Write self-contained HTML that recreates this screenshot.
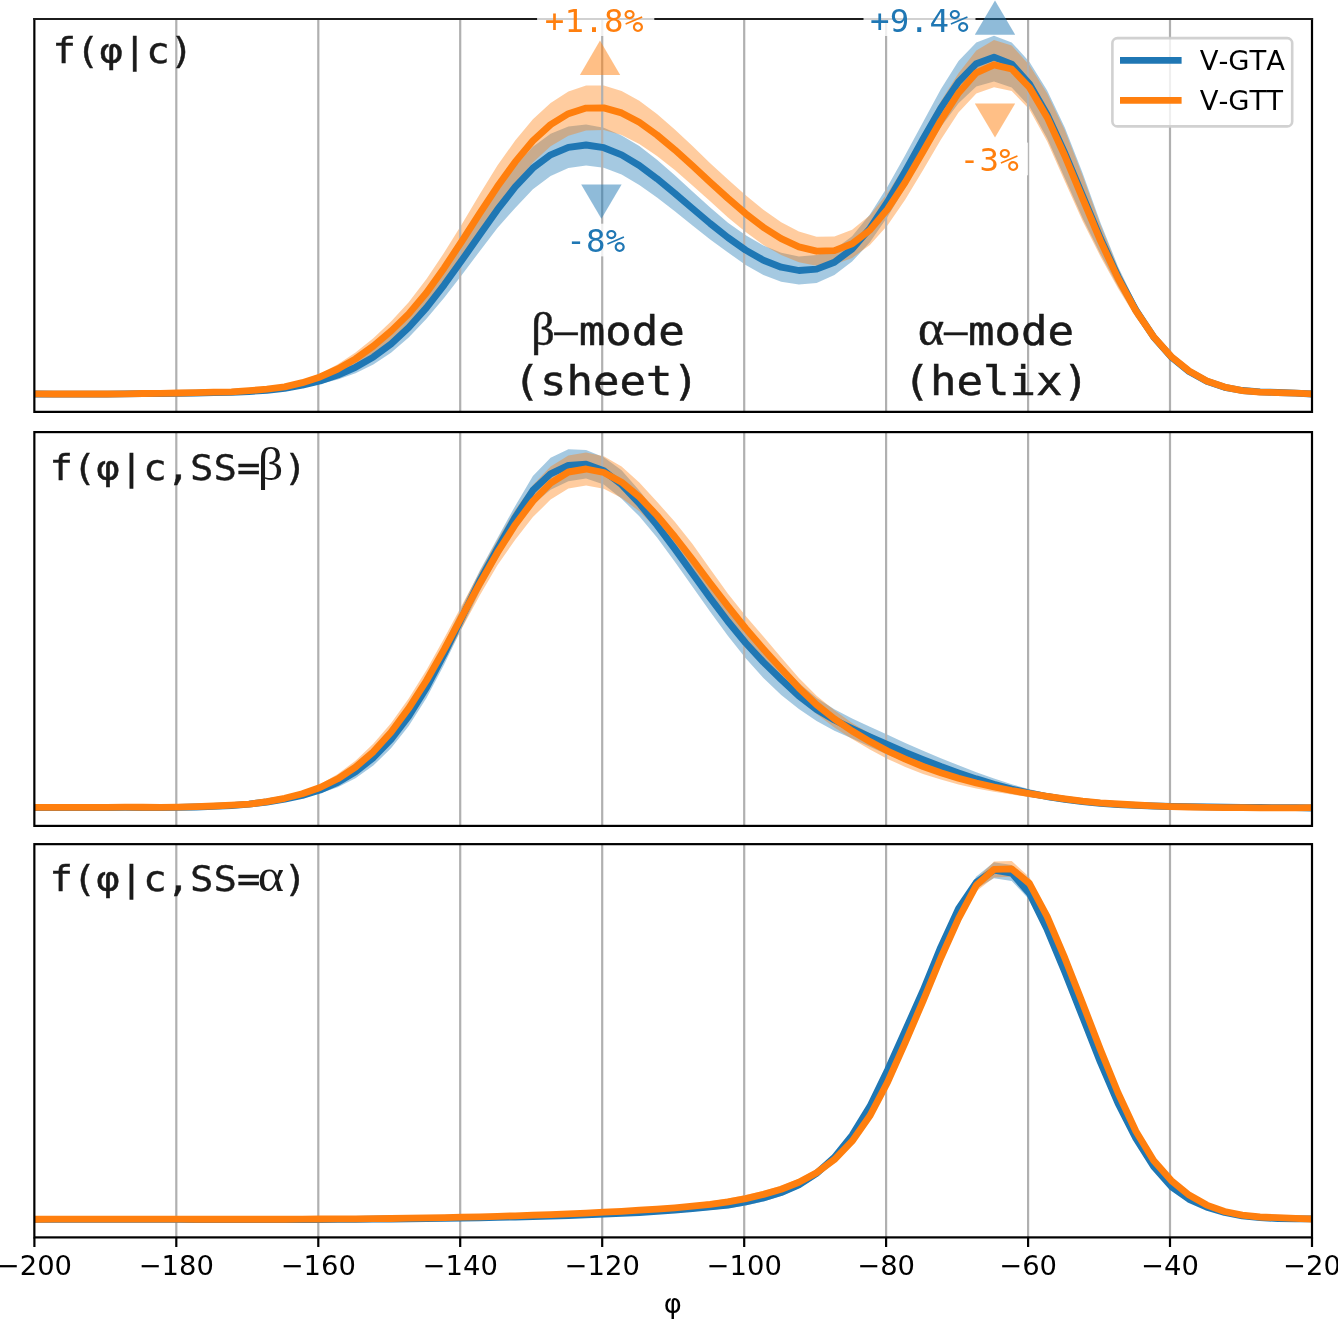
<!DOCTYPE html>
<html><head><meta charset="utf-8"><title>phi distributions</title>
<style>
html,body{margin:0;padding:0;background:#fff;}
svg{display:block}
.tk{font-family:"DejaVu Sans","Liberation Sans",sans-serif;font-size:27.4px;fill:#000;text-anchor:middle;font-kerning:none}
.mono{font-family:"DejaVu Sans Mono","Liberation Mono",monospace;}
.ser{font-family:"Liberation Serif","DejaVu Serif",serif;font-size:46px}
.ser2{font-family:"Liberation Serif","DejaVu Serif",serif;font-size:46px;fill:#1a1a1a;stroke:none}
.lab{font-size:35.7px;fill:#1a1a1a;stroke:#1a1a1a;stroke-width:0.4px}
.modet{fill:#1a1a1a;stroke:#1a1a1a;stroke-width:0.5px}
.mode{font-size:40px}
.ann{font-size:32.4px;letter-spacing:0.3px}
</style></head><body>
<svg width="1338" height="1319" viewBox="0 0 1338 1319">
<rect width="1338" height="1319" fill="#fff"/>
<defs>
<clipPath id="c0"><rect x="34.35" y="19.0" width="1277.7" height="392.9"/></clipPath>
<clipPath id="c1"><rect x="34.35" y="432.1" width="1277.7" height="393.8"/></clipPath>
<clipPath id="c2"><rect x="34.35" y="844.15" width="1277.7" height="393.3"/></clipPath>
</defs>
<g clip-path="url(#c0)">
<path d="M34.4,394.3 L36.3,394.3 L54.0,394.5 L71.8,394.6 L89.5,394.6 L107.2,394.6 L125.0,394.5 L142.7,394.3 L160.5,394.2 L178.2,394.1 L195.9,393.9 L213.7,393.6 L231.4,393.2 L249.1,392.5 L266.9,391.6 L284.6,390.1 L302.3,387.7 L320.1,384.0 L337.8,379.6 L355.5,373.2 L373.3,364.4 L391.0,352.7 L408.7,337.5 L426.5,318.8 L444.2,297.7 L462.0,274.8 L479.7,251.2 L497.4,228.0 L515.2,207.9 L532.9,189.3 L550.6,175.9 L568.4,168.0 L586.1,165.5 L603.8,167.7 L621.6,174.4 L639.3,185.1 L657.0,197.5 L674.8,211.3 L692.5,225.5 L710.2,239.5 L728.0,252.5 L745.7,264.9 L763.4,275.0 L781.2,281.7 L798.9,284.5 L816.6,283.1 L834.4,275.0 L852.1,261.6 L869.9,242.3 L887.6,216.8 L905.3,187.2 L923.1,156.1 L940.8,127.0 L958.5,103.2 L976.3,86.6 L994.0,81.4 L1011.7,87.5 L1029.5,106.5 L1047.2,138.6 L1064.9,178.6 L1082.7,218.5 L1100.4,254.0 L1118.1,286.8 L1135.9,316.8 L1153.6,341.3 L1171.3,360.0 L1189.1,374.0 L1206.8,383.2 L1224.6,388.7 L1242.3,391.6 L1260.0,392.6 L1277.8,393.1 L1295.5,393.6 L1312.0,394.3 L1312.0,393.7 L1295.5,392.7 L1277.8,391.9 L1260.0,391.0 L1242.3,389.4 L1224.6,385.9 L1206.8,379.5 L1189.1,369.1 L1171.3,354.1 L1153.6,332.5 L1135.9,303.4 L1118.1,266.7 L1100.4,222.4 L1082.7,173.2 L1064.9,127.8 L1047.2,90.5 L1029.5,61.9 L1011.7,42.4 L994.0,35.7 L976.3,42.6 L958.5,61.0 L940.8,89.3 L923.1,121.9 L905.3,155.0 L887.6,186.6 L869.9,214.5 L852.1,236.2 L834.4,249.5 L816.6,255.1 L798.9,256.5 L781.2,252.7 L763.4,245.4 L745.7,235.3 L728.0,222.7 L710.2,207.5 L692.5,191.5 L674.8,175.3 L657.0,159.8 L639.3,145.9 L621.6,135.4 L603.8,127.8 L586.1,124.6 L568.4,126.5 L550.6,133.7 L532.9,146.8 L515.2,165.9 L497.4,191.3 L479.7,218.2 L462.0,245.4 L444.2,271.8 L426.5,296.3 L408.7,317.6 L391.0,335.2 L373.3,349.7 L355.5,361.4 L337.8,370.5 L320.1,377.7 L302.3,382.7 L284.6,386.4 L266.9,389.0 L249.1,390.5 L231.4,391.4 L213.7,391.8 L195.9,392.3 L178.2,392.6 L160.5,392.8 L142.7,393.0 L125.0,393.3 L107.2,393.6 L89.5,393.6 L71.8,393.7 L54.0,393.8 L36.3,393.7 L34.4,393.7Z" fill="#1f77b4" fill-opacity="0.4"/>
<path d="M34.4,394.2 L36.3,394.2 L54.0,394.4 L71.8,394.4 L89.5,394.4 L107.2,394.4 L125.0,394.2 L142.7,393.9 L160.5,393.7 L178.2,393.5 L195.9,393.2 L213.7,392.7 L231.4,392.6 L249.1,391.6 L266.9,390.5 L284.6,388.7 L302.3,385.2 L320.1,380.1 L337.8,373.8 L355.5,365.2 L373.3,354.0 L391.0,340.5 L408.7,325.6 L426.5,306.4 L444.2,283.1 L462.0,257.8 L479.7,232.5 L497.4,207.6 L515.2,183.3 L532.9,162.5 L550.6,146.3 L568.4,135.7 L586.1,130.5 L603.8,130.1 L621.6,134.9 L639.3,143.9 L657.0,155.9 L674.8,170.1 L692.5,185.4 L710.2,201.2 L728.0,217.4 L745.7,232.0 L763.4,244.9 L781.2,255.0 L798.9,262.3 L816.6,265.7 L834.4,264.6 L852.1,257.9 L869.9,244.9 L887.6,225.2 L905.3,199.4 L923.1,170.0 L940.8,139.7 L958.5,112.4 L976.3,93.6 L994.0,87.2 L1011.7,91.1 L1029.5,109.5 L1047.2,141.4 L1064.9,181.4 L1082.7,221.3 L1100.4,256.4 L1118.1,288.4 L1135.9,317.4 L1153.6,341.2 L1171.3,359.6 L1189.1,373.4 L1206.8,382.7 L1224.6,388.5 L1242.3,391.7 L1260.0,392.9 L1277.8,393.2 L1295.5,393.6 L1312.0,394.2 L1312.0,393.6 L1295.5,392.7 L1277.8,392.0 L1260.0,391.3 L1242.3,389.4 L1224.6,385.7 L1206.8,379.0 L1189.1,368.6 L1171.3,353.7 L1153.6,332.4 L1135.9,304.1 L1118.1,268.4 L1100.4,224.8 L1082.7,176.0 L1064.9,130.6 L1047.2,93.4 L1029.5,65.2 L1011.7,45.5 L994.0,40.0 L976.3,50.5 L958.5,73.3 L940.8,101.3 L923.1,132.9 L905.3,164.7 L887.6,193.0 L869.9,215.2 L852.1,229.8 L834.4,236.5 L816.6,236.8 L798.9,231.4 L781.2,222.2 L763.4,209.7 L745.7,195.3 L728.0,179.4 L710.2,163.2 L692.5,146.1 L674.8,129.5 L657.0,114.1 L639.3,100.8 L621.6,91.0 L603.8,85.6 L586.1,85.6 L568.4,91.6 L550.6,102.9 L532.9,119.2 L515.2,140.6 L497.4,165.5 L479.7,194.3 L462.0,224.1 L444.2,252.6 L426.5,279.0 L408.7,302.3 L391.0,321.6 L373.3,338.2 L355.5,352.5 L337.8,364.3 L320.1,373.7 L302.3,380.3 L284.6,384.9 L266.9,387.9 L249.1,389.8 L231.4,391.0 L213.7,391.5 L195.9,392.2 L178.2,392.5 L160.5,392.8 L142.7,393.1 L125.0,393.4 L107.2,393.6 L89.5,393.6 L71.8,393.7 L54.0,393.7 L36.3,393.6 L34.4,393.6Z" fill="#ff7f0e" fill-opacity="0.4"/>
</g>
<path d="M176.3,19.0 V411.9 M318.3,19.0 V411.9 M460.2,19.0 V411.9 M602.2,19.0 V411.9 M744.2,19.0 V411.9 M886.1,19.0 V411.9 M1028.1,19.0 V411.9 M1170.0,19.0 V411.9 " stroke="#b0b0b0" stroke-width="2.2" fill="none"/>
<g clip-path="url(#c0)">
<path d="M34.4,394.0 L36.3,394.0 L54.0,394.1 L71.8,394.1 L89.5,394.1 L107.2,394.1 L125.0,393.9 L142.7,393.7 L160.5,393.5 L178.2,393.3 L195.9,393.1 L213.7,392.7 L231.4,392.3 L249.1,391.5 L266.9,390.3 L284.6,388.3 L302.3,385.2 L320.1,380.9 L337.8,375.0 L355.5,367.3 L373.3,357.1 L391.0,344.0 L408.7,327.5 L426.5,307.6 L444.2,284.8 L462.0,260.1 L479.7,234.7 L497.4,209.7 L515.2,186.9 L532.9,168.1 L550.6,154.8 L568.4,147.3 L586.1,145.0 L603.8,147.7 L621.6,154.9 L639.3,165.5 L657.0,178.7 L674.8,193.3 L692.5,208.5 L710.2,223.5 L728.0,237.6 L745.7,250.1 L763.4,260.2 L781.2,267.2 L798.9,270.5 L816.6,269.1 L834.4,262.2 L852.1,248.9 L869.9,228.4 L887.6,201.7 L905.3,171.1 L923.1,139.0 L940.8,108.1 L958.5,81.9 L976.3,63.7 L994.0,57.1 L1011.7,64.1 L1029.5,84.0 L1047.2,114.6 L1064.9,153.2 L1082.7,195.8 L1100.4,238.2 L1118.1,276.8 L1135.9,310.1 L1153.6,336.9 L1171.3,357.1 L1189.1,371.6 L1206.8,381.3 L1224.6,387.3 L1242.3,390.5 L1260.0,391.8 L1277.8,392.5 L1295.5,393.2 L1312.0,394.0" stroke="#1f77b4" stroke-width="6.85" fill="none" stroke-linejoin="round"/>
<path d="M34.4,393.9 L36.3,393.9 L54.0,394.0 L71.8,394.0 L89.5,394.0 L107.2,394.0 L125.0,393.8 L142.7,393.5 L160.5,393.3 L178.2,393.0 L195.9,392.7 L213.7,392.1 L231.4,391.8 L249.1,390.7 L266.9,389.2 L284.6,386.8 L302.3,382.7 L320.1,376.9 L337.8,369.0 L355.5,358.9 L373.3,346.1 L391.0,331.1 L408.7,313.9 L426.5,292.7 L444.2,267.9 L462.0,241.0 L479.7,213.4 L497.4,186.6 L515.2,161.9 L532.9,140.8 L550.6,124.6 L568.4,113.7 L586.1,108.1 L603.8,107.9 L621.6,112.9 L639.3,122.3 L657.0,135.0 L674.8,149.8 L692.5,165.8 L710.2,182.2 L728.0,198.4 L745.7,213.7 L763.4,227.3 L781.2,238.6 L798.9,246.9 L816.6,251.2 L834.4,250.6 L852.1,243.8 L869.9,230.1 L887.6,209.1 L905.3,182.1 L923.1,151.5 L940.8,120.5 L958.5,93.0 L976.3,72.8 L994.0,64.8 L1011.7,69.0 L1029.5,87.5 L1047.2,117.4 L1064.9,156.0 L1082.7,198.6 L1100.4,240.6 L1118.1,278.4 L1135.9,310.8 L1153.6,336.8 L1171.3,356.6 L1189.1,371.0 L1206.8,380.9 L1224.6,387.1 L1242.3,390.6 L1260.0,392.1 L1277.8,392.6 L1295.5,393.2 L1312.0,393.9" stroke="#ff7f0e" stroke-width="6.85" fill="none" stroke-linejoin="round"/>
</g>
<!-- triangles -->
<path d="M579.9,74.9 L620.2,74.9 L600,40.5Z" fill="#ff7f0e" fill-opacity="0.5"/>
<path d="M581.2,184.4 L621.6,184.4 L601.4,218.7Z" fill="#1f77b4" fill-opacity="0.5"/>
<path d="M974.8,103.6 L1015.2,103.6 L995,137.4Z" fill="#ff7f0e" fill-opacity="0.5"/>
<!-- lower annotations -->
<rect x="557" y="223.7" width="77.6" height="32.7" fill="#fff" fill-opacity="0.8"/>
<text class="mono ann" x="595.9" y="251.9" fill="#1f77b4" text-anchor="middle">-8%</text>
<rect x="950.5" y="142.6" width="77.6" height="32.7" fill="#fff" fill-opacity="0.8"/>
<text class="mono ann" x="989.4" y="170.8" fill="#ff7f0e" text-anchor="middle">-3%</text>
<!-- mode labels -->
<text class="ser modet" x="577.6" y="344.8" text-anchor="end">β–</text>
<text class="mono mode modet" transform="translate(578.8,344.8) scale(1.1,1)">mode</text>
<text class="mono mode modet" transform="translate(513.6,394.8) scale(1.1,1)">(sheet)</text>
<text class="ser modet" x="967.2" y="344.8" text-anchor="end"><tspan font-size="50">α</tspan>–</text>
<text class="mono mode modet" transform="translate(968,344.8) scale(1.1,1)">mode</text>
<text class="mono mode modet" transform="translate(903.6,394.8) scale(1.1,1)">(helix)</text>
<!-- legend -->
<rect x="1112.4" y="38.1" width="179.8" height="88.3" rx="5" ry="5" fill="#fff" fill-opacity="0.8" stroke="#ccc" stroke-opacity="0.9" stroke-width="2.6"/>
<path d="M1120,60.4 H1181.6" stroke="#1f77b4" stroke-width="6.7"/>
<path d="M1120,100.3 H1181.6" stroke="#ff7f0e" stroke-width="6.7"/>
<text class="tk" style="text-anchor:start" x="1199.7" y="70">V-GTA</text>
<text class="tk" style="text-anchor:start" x="1199.7" y="110.1">V-GTT</text>

<path d="M34.35,17.9 V411.9 H1312.0 V17.9" fill="none" stroke="#000" stroke-width="2.2" stroke-linejoin="miter"/>
<path d="M33.25,19.0 H1313.1" fill="none" stroke="#1c1c1c" stroke-width="1.8"/>
<rect x="537.1" y="3.3" width="117.2" height="32.7" fill="#fff" fill-opacity="0.8"/>
<text class="mono ann" x="594.2" y="32.1" fill="#ff7f0e" text-anchor="middle">+1.8%</text>
<rect x="863.5" y="3.3" width="112" height="32.7" fill="#fff" fill-opacity="0.8"/>
<text class="mono ann" x="919.5" y="32.1" fill="#1f77b4" text-anchor="middle">+9.4%</text>
<path d="M974.8,34.8 L1015.2,34.8 L995,0.5Z" fill="#1f77b4" fill-opacity="0.5"/>

<g clip-path="url(#c1)">
<path d="M34.4,808.0 L36.3,807.9 L54.0,807.9 L71.8,807.9 L89.5,808.0 L107.2,808.0 L125.0,808.0 L142.7,808.1 L160.5,808.3 L178.2,808.2 L195.9,807.8 L213.7,807.3 L231.4,806.6 L249.1,805.1 L266.9,803.5 L284.6,801.2 L302.3,797.9 L320.1,793.2 L337.8,787.3 L355.5,778.3 L373.3,765.6 L391.0,748.3 L408.7,726.0 L426.5,698.1 L444.2,664.4 L462.0,627.8 L479.7,591.2 L497.4,558.9 L515.2,528.7 L532.9,504.5 L550.6,489.8 L568.4,481.2 L586.1,478.4 L603.8,484.4 L621.6,498.8 L639.3,516.3 L657.0,537.6 L674.8,561.7 L692.5,586.7 L710.2,611.8 L728.0,636.0 L745.7,658.2 L763.4,677.9 L781.2,695.1 L798.9,709.0 L816.6,721.1 L834.4,730.7 L852.1,738.6 L869.9,746.8 L887.6,754.7 L905.3,761.8 L923.1,768.5 L940.8,774.9 L958.5,780.6 L976.3,785.4 L994.0,789.8 L1011.7,793.8 L1029.5,797.1 L1047.2,799.9 L1064.9,802.2 L1082.7,803.9 L1100.4,805.3 L1118.1,806.3 L1135.9,806.9 L1153.6,807.4 L1171.3,807.7 L1189.1,807.9 L1206.8,807.9 L1224.6,808.1 L1242.3,808.2 L1260.0,808.3 L1277.8,808.3 L1295.5,808.3 L1312.0,808.5 L1312.0,807.5 L1295.5,807.1 L1277.8,807.0 L1260.0,806.7 L1242.3,806.5 L1224.6,806.2 L1206.8,805.8 L1189.1,805.5 L1171.3,805.2 L1153.6,804.7 L1135.9,804.0 L1118.1,803.0 L1100.4,801.3 L1082.7,799.2 L1064.9,796.5 L1047.2,793.2 L1029.5,789.2 L1011.7,784.2 L994.0,778.6 L976.3,772.3 L958.5,765.3 L940.8,758.2 L923.1,750.8 L905.3,743.0 L887.6,734.8 L869.9,726.8 L852.1,718.6 L834.4,709.2 L816.6,698.1 L798.9,682.9 L781.2,663.9 L763.4,646.2 L745.7,627.8 L728.0,606.9 L710.2,584.1 L692.5,560.1 L674.8,536.0 L657.0,512.8 L639.3,490.5 L621.6,470.3 L603.8,457.2 L586.1,450.1 L568.4,449.3 L550.6,457.8 L532.9,476.1 L515.2,505.9 L497.4,538.3 L479.7,570.8 L462.0,606.9 L444.2,643.4 L426.5,677.1 L408.7,706.1 L391.0,730.2 L373.3,749.7 L355.5,765.4 L337.8,777.5 L320.1,786.8 L302.3,792.9 L284.6,797.2 L266.9,800.5 L249.1,803.1 L231.4,804.7 L213.7,805.5 L195.9,806.2 L178.2,806.6 L160.5,806.9 L142.7,806.8 L125.0,806.8 L107.2,806.9 L89.5,807.0 L71.8,807.1 L54.0,807.2 L36.3,807.3 L34.4,807.4Z" fill="#1f77b4" fill-opacity="0.4"/>
<path d="M34.4,807.8 L36.3,807.7 L54.0,807.7 L71.8,807.7 L89.5,807.8 L107.2,807.8 L125.0,807.8 L142.7,807.8 L160.5,808.1 L178.2,807.9 L195.9,807.5 L213.7,806.9 L231.4,806.1 L249.1,805.1 L266.9,803.2 L284.6,800.3 L302.3,796.3 L320.1,790.7 L337.8,783.7 L355.5,773.6 L373.3,759.7 L391.0,741.3 L408.7,718.3 L426.5,691.2 L444.2,660.5 L462.0,628.0 L479.7,595.5 L497.4,565.3 L515.2,539.8 L532.9,517.1 L550.6,499.6 L568.4,488.5 L586.1,485.5 L603.8,488.7 L621.6,498.1 L639.3,511.2 L657.0,529.2 L674.8,551.7 L692.5,575.5 L710.2,597.5 L728.0,619.1 L745.7,641.1 L763.4,661.8 L781.2,680.2 L798.9,697.9 L816.6,713.9 L834.4,727.5 L852.1,739.0 L869.9,749.6 L887.6,758.9 L905.3,766.9 L923.1,773.9 L940.8,779.6 L958.5,784.5 L976.3,788.4 L994.0,791.7 L1011.7,794.6 L1029.5,797.1 L1047.2,799.4 L1064.9,801.6 L1082.7,803.5 L1100.4,804.8 L1118.1,805.7 L1135.9,806.4 L1153.6,807.3 L1171.3,807.8 L1189.1,808.1 L1206.8,808.4 L1224.6,808.5 L1242.3,808.6 L1260.0,808.6 L1277.8,808.6 L1295.5,808.4 L1312.0,808.2 L1312.0,807.2 L1295.5,807.3 L1277.8,807.3 L1260.0,807.1 L1242.3,806.8 L1224.6,806.6 L1206.8,806.3 L1189.1,805.8 L1171.3,805.3 L1153.6,804.6 L1135.9,803.5 L1118.1,802.4 L1100.4,800.8 L1082.7,798.8 L1064.9,796.2 L1047.2,793.2 L1029.5,790.1 L1011.7,786.5 L994.0,782.3 L976.3,777.5 L958.5,772.0 L940.8,765.9 L923.1,759.1 L905.3,751.5 L887.6,743.0 L869.9,733.6 L852.1,723.0 L834.4,710.3 L816.6,695.7 L798.9,677.9 L781.2,657.4 L763.4,636.5 L745.7,615.9 L728.0,593.8 L710.2,569.0 L692.5,544.0 L674.8,521.8 L657.0,501.7 L639.3,482.6 L621.6,466.4 L603.8,456.2 L586.1,452.5 L568.4,455.5 L550.6,466.6 L532.9,485.0 L515.2,509.7 L497.4,540.1 L479.7,571.9 L462.0,604.9 L444.2,638.2 L426.5,669.9 L408.7,698.4 L391.0,723.2 L373.3,743.8 L355.5,760.7 L337.8,774.0 L320.1,784.3 L302.3,791.3 L284.6,796.3 L266.9,800.2 L249.1,803.1 L231.4,804.2 L213.7,805.1 L195.9,805.9 L178.2,806.4 L160.5,806.7 L142.7,806.5 L125.0,806.6 L107.2,806.7 L89.5,806.8 L71.8,806.9 L54.0,807.0 L36.3,807.1 L34.4,807.2Z" fill="#ff7f0e" fill-opacity="0.4"/>
</g>
<path d="M176.3,432.1 V825.9 M318.3,432.1 V825.9 M460.2,432.1 V825.9 M602.2,432.1 V825.9 M744.2,432.1 V825.9 M886.1,432.1 V825.9 M1028.1,432.1 V825.9 M1170.0,432.1 V825.9 " stroke="#b0b0b0" stroke-width="2.2" fill="none"/>
<g clip-path="url(#c1)">
<path d="M34.4,807.7 L36.3,807.6 L54.0,807.5 L71.8,807.5 L89.5,807.5 L107.2,807.5 L125.0,807.4 L142.7,807.5 L160.5,807.6 L178.2,807.4 L195.9,807.0 L213.7,806.4 L231.4,805.6 L249.1,804.1 L266.9,802.0 L284.6,799.2 L302.3,795.4 L320.1,790.0 L337.8,782.4 L355.5,771.8 L373.3,757.7 L391.0,739.3 L408.7,716.1 L426.5,687.6 L444.2,653.9 L462.0,617.3 L479.7,581.0 L497.4,548.6 L515.2,517.3 L532.9,490.3 L550.6,473.8 L568.4,465.3 L586.1,464.2 L603.8,470.8 L621.6,484.6 L639.3,503.4 L657.0,525.2 L674.8,548.9 L692.5,573.4 L710.2,597.9 L728.0,621.5 L745.7,643.0 L763.4,662.1 L781.2,679.5 L798.9,696.0 L816.6,709.6 L834.4,720.0 L852.1,728.6 L869.9,736.8 L887.6,744.7 L905.3,752.4 L923.1,759.6 L940.8,766.5 L958.5,772.9 L976.3,778.9 L994.0,784.2 L1011.7,789.0 L1029.5,793.1 L1047.2,796.5 L1064.9,799.3 L1082.7,801.6 L1100.4,803.3 L1118.1,804.6 L1135.9,805.4 L1153.6,806.0 L1171.3,806.5 L1189.1,806.7 L1206.8,806.9 L1224.6,807.2 L1242.3,807.4 L1260.0,807.5 L1277.8,807.6 L1295.5,807.7 L1312.0,808.0" stroke="#1f77b4" stroke-width="6.85" fill="none" stroke-linejoin="round"/>
<path d="M34.4,807.5 L36.3,807.4 L54.0,807.3 L71.8,807.3 L89.5,807.3 L107.2,807.3 L125.0,807.2 L142.7,807.2 L160.5,807.4 L178.2,807.2 L195.9,806.7 L213.7,806.0 L231.4,805.2 L249.1,804.1 L266.9,801.7 L284.6,798.3 L302.3,793.8 L320.1,787.5 L337.8,778.8 L355.5,767.1 L373.3,751.8 L391.0,732.2 L408.7,708.3 L426.5,680.5 L444.2,649.4 L462.0,616.4 L479.7,583.7 L497.4,552.7 L515.2,524.7 L532.9,501.1 L550.6,483.1 L568.4,472.0 L586.1,469.0 L603.8,472.5 L621.6,482.2 L639.3,496.9 L657.0,515.5 L674.8,536.8 L692.5,559.7 L710.2,583.3 L728.0,606.4 L745.7,628.5 L763.4,649.1 L781.2,668.8 L798.9,687.9 L816.6,704.8 L834.4,718.9 L852.1,731.0 L869.9,741.6 L887.6,751.0 L905.3,759.2 L923.1,766.5 L940.8,772.8 L958.5,778.2 L976.3,783.0 L994.0,787.0 L1011.7,790.5 L1029.5,793.6 L1047.2,796.3 L1064.9,798.9 L1082.7,801.2 L1100.4,802.8 L1118.1,804.0 L1135.9,805.0 L1153.6,805.9 L1171.3,806.6 L1189.1,807.0 L1206.8,807.3 L1224.6,807.6 L1242.3,807.7 L1260.0,807.9 L1277.8,807.9 L1295.5,807.8 L1312.0,807.7" stroke="#ff7f0e" stroke-width="6.85" fill="none" stroke-linejoin="round"/>
</g>
<rect x="34.35" y="432.1" width="1277.65" height="393.80" fill="none" stroke="#000" stroke-width="2.2"/>
<g clip-path="url(#c2)">
<path d="M34.4,1219.7 L36.3,1219.7 L54.0,1219.7 L71.8,1219.7 L89.5,1219.7 L107.2,1219.8 L125.0,1219.8 L142.7,1219.9 L160.5,1220.0 L178.2,1220.0 L195.9,1220.1 L213.7,1220.2 L231.4,1220.2 L249.1,1220.3 L266.9,1220.3 L284.6,1220.3 L302.3,1220.3 L320.1,1220.4 L337.8,1220.3 L355.5,1220.3 L373.3,1220.2 L391.0,1220.1 L408.7,1220.0 L426.5,1219.8 L444.2,1219.6 L462.0,1219.3 L479.7,1219.0 L497.4,1218.7 L515.2,1218.3 L532.9,1217.9 L550.6,1217.4 L568.4,1216.9 L586.1,1216.3 L603.8,1215.6 L621.6,1215.1 L639.3,1214.5 L657.0,1213.6 L674.8,1212.5 L692.5,1211.3 L710.2,1210.0 L728.0,1208.3 L745.7,1205.4 L763.4,1201.4 L781.2,1196.0 L798.9,1188.3 L816.6,1176.9 L834.4,1160.9 L852.1,1138.8 L869.9,1109.6 L887.6,1073.0 L905.3,1033.5 L923.1,993.8 L940.8,950.8 L958.5,912.7 L976.3,888.5 L994.0,878.2 L1011.7,881.0 L1029.5,899.7 L1047.2,933.6 L1064.9,975.1 L1082.7,1020.1 L1100.4,1064.7 L1118.1,1105.8 L1135.9,1140.7 L1153.6,1168.4 L1171.3,1188.4 L1189.1,1200.9 L1206.8,1208.6 L1224.6,1213.8 L1242.3,1217.0 L1260.0,1218.7 L1277.8,1219.3 L1295.5,1219.4 L1312.0,1219.4 L1312.0,1218.4 L1295.5,1218.1 L1277.8,1217.7 L1260.0,1216.8 L1242.3,1214.7 L1224.6,1211.2 L1206.8,1205.7 L1189.1,1197.6 L1171.3,1184.8 L1153.6,1164.5 L1135.9,1136.4 L1118.1,1101.1 L1100.4,1059.6 L1082.7,1014.6 L1064.9,969.2 L1047.2,925.7 L1029.5,887.3 L1011.7,865.1 L994.0,862.2 L976.3,876.4 L958.5,904.7 L940.8,943.4 L923.1,987.1 L905.3,1027.3 L887.6,1066.8 L869.9,1103.1 L852.1,1132.1 L834.4,1153.9 L816.6,1169.9 L798.9,1181.3 L781.2,1189.0 L763.4,1194.4 L745.7,1198.4 L728.0,1201.8 L710.2,1203.9 L692.5,1205.7 L674.8,1207.5 L657.0,1209.0 L639.3,1210.4 L621.6,1211.5 L603.8,1212.5 L586.1,1213.4 L568.4,1214.1 L550.6,1214.6 L532.9,1215.2 L515.2,1215.7 L497.4,1216.1 L479.7,1216.5 L462.0,1216.9 L444.2,1217.2 L426.5,1217.5 L408.7,1217.8 L391.0,1218.0 L373.3,1218.2 L355.5,1218.3 L337.8,1218.5 L320.1,1218.5 L302.3,1218.6 L284.6,1218.6 L266.9,1218.7 L249.1,1218.7 L231.4,1218.8 L213.7,1218.8 L195.9,1218.8 L178.2,1218.8 L160.5,1218.8 L142.7,1218.8 L125.0,1218.9 L107.2,1218.9 L89.5,1218.9 L71.8,1218.9 L54.0,1219.0 L36.3,1219.1 L34.4,1219.1Z" fill="#1f77b4" fill-opacity="0.4"/>
<path d="M34.4,1219.5 L36.3,1219.5 L54.0,1219.5 L71.8,1219.5 L89.5,1219.5 L107.2,1219.5 L125.0,1219.6 L142.7,1219.6 L160.5,1219.7 L178.2,1219.8 L195.9,1219.8 L213.7,1219.9 L231.4,1219.9 L249.1,1220.0 L266.9,1220.0 L284.6,1220.0 L302.3,1220.0 L320.1,1219.9 L337.8,1219.9 L355.5,1219.8 L373.3,1219.7 L391.0,1219.5 L408.7,1219.3 L426.5,1219.1 L444.2,1218.8 L462.0,1218.5 L479.7,1218.1 L497.4,1217.6 L515.2,1217.1 L532.9,1216.6 L550.6,1216.0 L568.4,1215.3 L586.1,1214.5 L603.8,1213.7 L621.6,1213.1 L639.3,1212.3 L657.0,1211.4 L674.8,1210.3 L692.5,1208.9 L710.2,1207.4 L728.0,1205.1 L745.7,1202.1 L763.4,1197.9 L781.2,1192.7 L798.9,1185.7 L816.6,1176.2 L834.4,1163.1 L852.1,1144.5 L869.9,1119.1 L887.6,1085.2 L905.3,1045.4 L923.1,1004.3 L940.8,961.7 L958.5,922.7 L976.3,891.3 L994.0,877.4 L1011.7,876.8 L1029.5,889.7 L1047.2,920.6 L1064.9,961.2 L1082.7,1006.2 L1100.4,1051.9 L1118.1,1095.3 L1135.9,1133.4 L1153.6,1162.5 L1171.3,1182.4 L1189.1,1196.7 L1206.8,1206.6 L1224.6,1212.9 L1242.3,1216.4 L1260.0,1218.0 L1277.8,1218.5 L1295.5,1218.9 L1312.0,1219.5 L1312.0,1218.5 L1295.5,1217.6 L1277.8,1216.9 L1260.0,1216.0 L1242.3,1214.1 L1224.6,1210.2 L1206.8,1203.6 L1189.1,1193.4 L1171.3,1178.8 L1153.6,1158.6 L1135.9,1129.0 L1118.1,1090.6 L1100.4,1046.8 L1082.7,1000.7 L1064.9,955.3 L1047.2,912.7 L1029.5,877.2 L1011.7,861.0 L994.0,861.4 L976.3,879.3 L958.5,914.7 L940.8,954.4 L923.1,997.5 L905.3,1039.2 L887.6,1079.1 L869.9,1112.6 L852.1,1137.8 L834.4,1156.1 L816.6,1169.2 L798.9,1178.7 L781.2,1185.7 L763.4,1190.9 L745.7,1195.1 L728.0,1198.5 L710.2,1201.3 L692.5,1203.4 L674.8,1205.2 L657.0,1206.8 L639.3,1208.2 L621.6,1209.5 L603.8,1210.6 L586.1,1211.6 L568.4,1212.4 L550.6,1213.2 L532.9,1213.9 L515.2,1214.5 L497.4,1215.1 L479.7,1215.6 L462.0,1216.0 L444.2,1216.4 L426.5,1216.8 L408.7,1217.1 L391.0,1217.4 L373.3,1217.6 L355.5,1217.8 L337.8,1218.0 L320.1,1218.1 L302.3,1218.2 L284.6,1218.3 L266.9,1218.4 L249.1,1218.5 L231.4,1218.5 L213.7,1218.5 L195.9,1218.5 L178.2,1218.6 L160.5,1218.6 L142.7,1218.6 L125.0,1218.6 L107.2,1218.6 L89.5,1218.7 L71.8,1218.7 L54.0,1218.8 L36.3,1218.9 L34.4,1218.9Z" fill="#ff7f0e" fill-opacity="0.4"/>
</g>
<path d="M176.3,844.15 V1237.4 M318.3,844.15 V1237.4 M460.2,844.15 V1237.4 M602.2,844.15 V1237.4 M744.2,844.15 V1237.4 M886.1,844.15 V1237.4 M1028.1,844.15 V1237.4 M1170.0,844.15 V1237.4 " stroke="#b0b0b0" stroke-width="2.2" fill="none"/>
<g clip-path="url(#c2)">
<path d="M34.4,1219.4 L36.3,1219.4 L54.0,1219.3 L71.8,1219.3 L89.5,1219.3 L107.2,1219.3 L125.0,1219.4 L142.7,1219.4 L160.5,1219.4 L178.2,1219.4 L195.9,1219.5 L213.7,1219.5 L231.4,1219.5 L249.1,1219.5 L266.9,1219.5 L284.6,1219.5 L302.3,1219.5 L320.1,1219.5 L337.8,1219.4 L355.5,1219.3 L373.3,1219.2 L391.0,1219.0 L408.7,1218.9 L426.5,1218.7 L444.2,1218.4 L462.0,1218.1 L479.7,1217.8 L497.4,1217.4 L515.2,1217.0 L532.9,1216.5 L550.6,1216.0 L568.4,1215.5 L586.1,1214.9 L603.8,1214.1 L621.6,1213.3 L639.3,1212.5 L657.0,1211.3 L674.8,1210.0 L692.5,1208.5 L710.2,1206.9 L728.0,1205.1 L745.7,1201.9 L763.4,1197.9 L781.2,1192.5 L798.9,1184.8 L816.6,1173.4 L834.4,1157.4 L852.1,1135.4 L869.9,1106.4 L887.6,1069.9 L905.3,1030.4 L923.1,990.5 L940.8,947.1 L958.5,908.7 L976.3,882.4 L994.0,870.2 L1011.7,873.1 L1029.5,893.5 L1047.2,929.6 L1064.9,972.1 L1082.7,1017.3 L1100.4,1062.2 L1118.1,1103.5 L1135.9,1138.5 L1153.6,1166.5 L1171.3,1186.6 L1189.1,1199.3 L1206.8,1207.2 L1224.6,1212.5 L1242.3,1215.9 L1260.0,1217.7 L1277.8,1218.5 L1295.5,1218.8 L1312.0,1218.9" stroke="#1f77b4" stroke-width="6.85" fill="none" stroke-linejoin="round"/>
<path d="M34.4,1219.2 L36.3,1219.2 L54.0,1219.1 L71.8,1219.1 L89.5,1219.1 L107.2,1219.1 L125.0,1219.1 L142.7,1219.1 L160.5,1219.1 L178.2,1219.2 L195.9,1219.2 L213.7,1219.2 L231.4,1219.2 L249.1,1219.2 L266.9,1219.2 L284.6,1219.2 L302.3,1219.1 L320.1,1219.0 L337.8,1218.9 L355.5,1218.8 L373.3,1218.6 L391.0,1218.5 L408.7,1218.2 L426.5,1217.9 L444.2,1217.6 L462.0,1217.2 L479.7,1216.8 L497.4,1216.3 L515.2,1215.8 L532.9,1215.2 L550.6,1214.6 L568.4,1213.8 L586.1,1213.1 L603.8,1212.2 L621.6,1211.3 L639.3,1210.2 L657.0,1209.1 L674.8,1207.8 L692.5,1206.2 L710.2,1204.3 L728.0,1201.8 L745.7,1198.6 L763.4,1194.4 L781.2,1189.2 L798.9,1182.2 L816.6,1172.7 L834.4,1159.6 L852.1,1141.2 L869.9,1115.8 L887.6,1082.2 L905.3,1042.3 L923.1,1000.9 L940.8,958.0 L958.5,918.7 L976.3,885.3 L994.0,869.4 L1011.7,868.9 L1029.5,883.5 L1047.2,916.6 L1064.9,958.2 L1082.7,1003.5 L1100.4,1049.4 L1118.1,1093.0 L1135.9,1131.2 L1153.6,1160.5 L1171.3,1180.6 L1189.1,1195.1 L1206.8,1205.1 L1224.6,1211.5 L1242.3,1215.2 L1260.0,1217.0 L1277.8,1217.7 L1295.5,1218.3 L1312.0,1219.0" stroke="#ff7f0e" stroke-width="6.85" fill="none" stroke-linejoin="round"/>
</g>
<rect x="34.35" y="844.15" width="1277.65" height="393.25" fill="none" stroke="#000" stroke-width="2.2"/>
<path d="M34.4,1237.4 v9.6 M176.3,1237.4 v9.6 M318.3,1237.4 v9.6 M460.2,1237.4 v9.6 M602.2,1237.4 v9.6 M744.2,1237.4 v9.6 M886.1,1237.4 v9.6 M1028.1,1237.4 v9.6 M1170.0,1237.4 v9.6 M1312.0,1237.4 v9.6 " stroke="#000" stroke-width="2.2" fill="none"/>
<text class="tk" x="34.4" y="1274.9">−200</text>
<text class="tk" x="176.3" y="1274.9">−180</text>
<text class="tk" x="318.3" y="1274.9">−160</text>
<text class="tk" x="460.2" y="1274.9">−140</text>
<text class="tk" x="602.2" y="1274.9">−120</text>
<text class="tk" x="744.2" y="1274.9">−100</text>
<text class="tk" x="886.1" y="1274.9">−80</text>
<text class="tk" x="1028.1" y="1274.9">−60</text>
<text class="tk" x="1170.0" y="1274.9">−40</text>
<text class="tk" x="1312.0" y="1274.9">−20</text>
<text class="tk" x="672.8" y="1312.7">φ</text>
<text class="mono lab" transform="translate(52.6,63.4) scale(1.091,1)">f(φ|c)</text>
<text class="mono lab" transform="translate(49.4,479.9) scale(1.091,1)">f(φ|c,SS=<tspan class="ser2" dx="-2.3">β</tspan><tspan dx="0.1">)</tspan></text>
<text class="mono lab" transform="translate(49.4,890.5) scale(1.091,1)">f(φ|c,SS=<tspan class="ser2" dx="-2.3">α</tspan><tspan dx="-0.5">)</tspan></text>

</svg></body></html>
